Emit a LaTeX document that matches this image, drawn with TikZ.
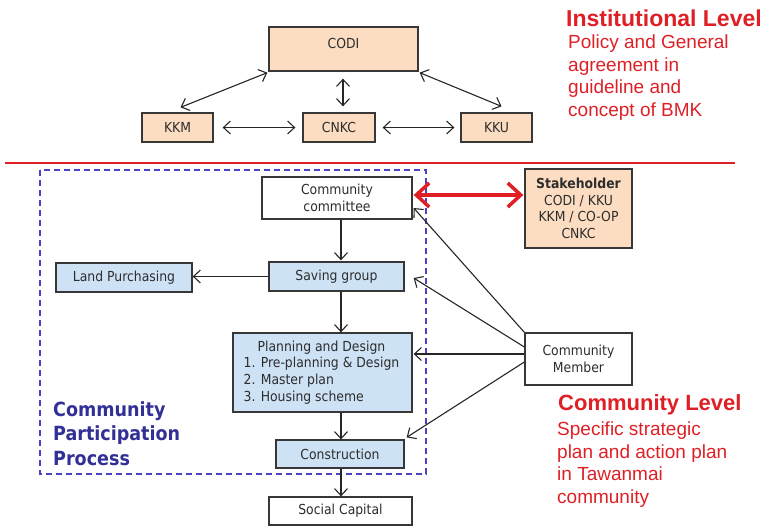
\documentclass[tikz,border=0pt]{standalone}
\usepackage{fontspec}
\setmainfont{Liberation Sans}
\newfontfamily\boxfont{DejaVu Sans Condensed}
\usetikzlibrary{arrows.meta}
\definecolor{peach}{RGB}{252,221,193}
\definecolor{lblue}{RGB}{206,226,245}
\definecolor{redc}{RGB}{222,32,38}
\definecolor{indig}{RGB}{50,48,150}
\definecolor{dashc}{RGB}{75,65,195}
\definecolor{edgec}{RGB}{55,55,55}
\definecolor{txtc}{RGB}{45,45,45}
\begin{document}
\begin{tikzpicture}[x=1pt,y=-1pt,
  box/.style={draw=edgec, line width=1.3pt, inner sep=0pt, text=txtc, align=center,
    font={\boxfont\fontsize{13.8}{16.5}\selectfont}},
  pbox/.style={box, fill=peach},
  bbox/.style={box, fill=lblue},
  wbox/.style={box, fill=white},
  btext/.style={inner sep=0pt, text=txtc, font={\boxfont\fontsize{13.8}{16.8}\selectfont}},
  tipk/.tip={Straight Barb[length=7pt,width=13pt,line width=1.1pt]},
  arr/.style={draw=black!85, line width=1.1pt, -tipk},
  darr/.style={draw=black!85, line width=1.1pt, tipk-tipk},
  redarr/.style={draw=redc, line width=3.5pt, {Straight Barb[length=13pt,width=24pt]}-{Straight Barb[length=13pt,width=24pt]}},
  redline/.style={draw=redc, line width=1.8pt},
  dashbox/.style={draw=dashc, line width=1.6pt, dash pattern=on 6pt off 4pt},
  redhead/.style={inner sep=0pt, anchor=north west, text=redc, font={\fontsize{23}{26}\selectfont\bfseries}},
  redbody/.style={inner sep=0pt, anchor=north west, text=redc, align=left, font={\fontsize{19}{22.5}\selectfont}},
  bluehead/.style={inner sep=0pt, anchor=north west, text=indig, align=left, font={\boxfont\fontsize{19.5}{24.5}\selectfont\bfseries}}
]
\useasboundingbox (0,0) rectangle (765,528);

% ---------- institutional level ----------
\node[pbox, minimum width=149pt, minimum height=44pt] (codi) at (343.5,49) {};
\node[btext] (codiT) at (343.5,43) {CODI};
\node[pbox, minimum width=71pt, minimum height=29pt] (kkm) at (177.5,127.5) {KKM};
\node[pbox, minimum width=72pt, minimum height=29pt] (cnkc) at (339,127.5) {CNKC};
\node[pbox, minimum width=71pt, minimum height=29pt] (kku) at (496.5,127.5) {KKU};

\draw[darr] ([shift={(3pt,5pt)}]kkm.north) -- ([shift={(-1pt,-1pt)}]codi.south west);
\draw[darr] ([shift={(1pt,-1pt)}]codi.south east) -- ([shift={(5pt,6pt)}]kku.north);
\draw[darr, shorten <=6pt, shorten >=7pt] ([xshift=4pt]cnkc.north) -- ([xshift=4pt]cnkc.north |- codi.south);
\draw[darr, shorten <=9pt, shorten >=7pt] (kkm.east) -- (cnkc.west);
\draw[darr, shorten <=7pt, shorten >=6pt] (cnkc.east) -- (kku.west);

\node[redhead] (instH) at (566,10) {Institutional Level};
\node[redbody] (instB) at (568,35) {Policy and General\\agreement in\\guideline and\\concept of BMK};

\coordinate (rl1) at (5,163);
\coordinate (rl2) at (735,163);
\draw[redline] (rl1) -- (rl2);

% ---------- community level ----------
\coordinate (db1) at (40,170);
\coordinate (db2) at (426,474);
\draw[dashbox] (db1) rectangle (db2);

\node[wbox, minimum width=150pt, minimum height=42pt] (cc) at (337,198) {Community\\committee};
\node[bbox, minimum width=135pt, minimum height=29pt] (sg) at (336.5,276.5) {Saving group};
\node[bbox, minimum width=136pt, minimum height=29pt] (lp) at (124,277.5) {Land Purchasing};
\node[bbox, minimum width=179pt, minimum height=79pt] (pd) at (322.5,372.5) {};
\node[btext] (pdT) at (321.5,373) {\begin{tabular}{@{}l@{}}\multicolumn{1}{@{}c@{}}{Planning and Design}\\1. Pre-planning \& Design\\2. Master plan\\3. Housing scheme\end{tabular}};
\node[bbox, minimum width=128pt, minimum height=28pt] (cn) at (340,454) {Construction};
\node[wbox, minimum width=143pt, minimum height=28pt] (sc) at (340.5,511) {Social Capital};

\node[pbox, minimum width=107pt, minimum height=79pt] (sh) at (578.5,208.5) {\textbf{Stakeholder}\\CODI / KKU\\KKM / CO-OP\\CNKC};
\node[wbox, minimum width=107pt, minimum height=52pt] (cm) at (578.5,359) {Community\\Member};

\coordinate (ax) at (341,0);
\draw[arr, shorten >=1pt] (cc.south -| ax) -- (sg.north -| ax);
\draw[arr] (sg.west) -- (lp.east |- sg.west);
\draw[arr] (sg.south -| ax) -- (pd.north -| ax);
\draw[arr] (pd.south -| ax) -- (cn.north -| ax);
\draw[arr] (cn.south -| ax) -- (sc.north -| ax);

\draw[redarr] ([xshift=1pt,yshift=13.5pt]cc.east |- sh.west) -- ([xshift=-1pt,yshift=13.5pt]sh.west);

\draw[arr] (cm.north west) -- ([shift={(1pt,-10pt)}]cc.east);
\draw[arr] ([yshift=12pt]cm.west) -- ([shift={(9pt,-1.5pt)}]sg.east);
\draw[arr] ([yshift=5pt]cm.west) -- ([xshift=1pt,yshift=18.5pt]pd.east);
\draw[arr] ([yshift=-3pt]cm.west) -- ([shift={(2pt,2pt)}]cn.north east);

\node[bluehead] (cpp) at (53,401) {Community\\Participation\\Process};

\node[redhead, font={\fontsize{22}{26}\selectfont\bfseries}] (comH) at (558,394) {Community Level};
\node[redbody] (comB) at (557,422) {Specific strategic\\plan and action plan\\in Tawanmai\\community};
\end{tikzpicture}
\end{document}
